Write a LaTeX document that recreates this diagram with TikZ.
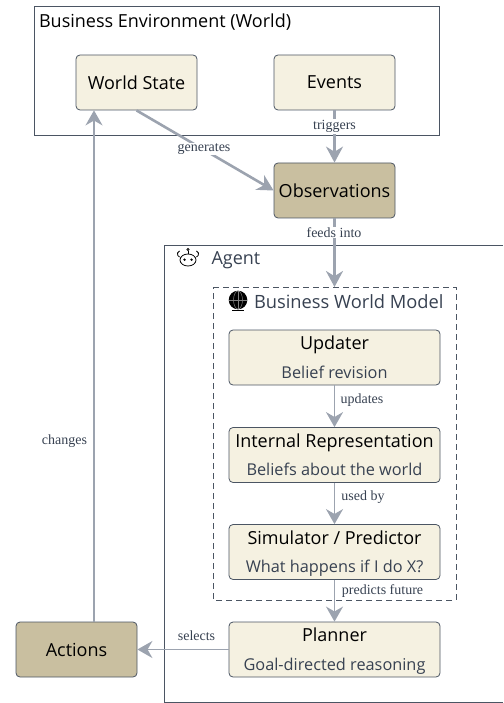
\documentclass[tikz,border=0pt]{standalone}
\usepackage{fontspec}
\setmainfont{Liberation Serif}
\setsansfont{Open Sans}
\usetikzlibrary{arrows.meta}
\definecolor{boxcream}{HTML}{F5F1E1}
\definecolor{boxtan}{HTML}{C9BFA0}
\definecolor{edgegray}{HTML}{9CA3AF}
\definecolor{linegray}{HTML}{4B5563}
\definecolor{subgray}{HTML}{374151}
\tikzset{
	cream/.style={draw=linegray,fill=boxcream,rounded corners=4pt,line width=0.8pt,minimum width=121pt,minimum height=55pt,inner sep=0pt,font=\sffamily\fontsize{18}{20}\selectfont},
	tan/.style={cream,fill=boxtan},
	part/.style={cream,minimum width=211pt,align=center},
	edgelabel/.style={fill=white,inner sep=1pt,text=subgray,font=\rmfamily\fontsize{14}{16}\selectfont},
	thickflow/.style={draw=edgegray,line width=2.6pt,-{Stealth[length=16pt,width=17pt]}},
	flow/.style={draw=edgegray,line width=1.8pt,-{Stealth[length=15pt,width=17pt]}}
}
\newcommand{\parttext}[2]{\rule[-6pt]{0pt}{24pt}#1\\[8.4pt]{\fontsize{16.3}{18}\selectfont\color{subgray}\strut #2}}
\begin{document}
\begin{tikzpicture}[x=1pt,y=-1pt]
	\useasboundingbox (0,0) rectangle (503,703);
	
	\draw[linegray,line width=0.8pt](34.5,6)--(439.5,6)--(439.5,135.5)--(34.5,135.5)--cycle;
	\node[anchor=west,font=\sffamily\fontsize{18}{20}\selectfont] (worldtitle) at (35.5,22.5){Business Environment (World)};
	
	\draw[linegray,line width=0.8pt](503,245)--(164,245)--(164,702)--(503,702);
	\node[anchor=west,text=subgray,font=\sffamily\fontsize{18}{20}\selectfont] (agenttitle) at (208,260.5){Agent};
	
	\draw[black,line width=0.8pt](188,260) ellipse [x radius=8,y radius=6];
	\draw[black,line width=0.8pt](179.5,257) arc [start angle=110,end angle=250,radius=3.2];
	\draw[black,line width=0.8pt](196.5,257) arc [start angle=70,end angle=-70,radius=3.2];
	\draw[black,line width=0.6pt](188,254)--(188,250.5);
	\draw[black,line width=0.6pt](188,249.5) circle [radius=1.1];
	\fill[black](184.5,259.7) circle [radius=1.3];
	\fill[black](191.5,259.7) circle [radius=1.3];
	
	\draw[linegray,line width=0.9pt,dashed,dash pattern=on 6pt off 4pt](213,287)--(456,287)--(456,600)--(213,600)--cycle;
	\node[anchor=west,text=subgray,font=\sffamily\fontsize{18.3}{20}\selectfont] (modeltitle) at (250.5,302){Business World Model};
	
	\fill[black](238,300) circle [radius=9.3];
	\draw[gray,line width=0.5pt](229,300)--(247,300);
	\draw[gray,line width=0.5pt](238,291)--(238,309);
	\draw[gray,line width=0.5pt](238,300) ellipse [x radius=4.5,y radius=9];
	\draw[black,line width=1.2pt](232,310.5)--(244,310.5);
	
	\node[cream] (worldstate) at (136.5,82.5){World State};
	\node[cream] (events) at (334.5,82.5){Events};
	\node[tan] (observations) at (334.5,190.5){Observations};
	\node[tan] (actions) at (76.5,649.5){Actions};
	
	\node[part] (updater) at (334.5,357.5){\parttext{Updater}{Belief revision}};
	\node[part] (internal) at (334.5,455){\parttext{Internal Representation}{Beliefs about the world}};
	\node[part] (simulator) at (334.5,552){\parttext{Simulator / Predictor}{What happens if I do X?}};
	\node[part] (planner) at (334.5,649.5){\parttext{Planner}{Goal-directed reasoning}};
	
	\draw[thickflow](worldstate.south)--(observations.west);
	\draw[thickflow](events)--(observations);
	\draw[thickflow](observations.south)--(334.5,287);
	\draw[flow](updater)--(internal);
	\draw[flow](internal)--(simulator);
	\draw[flow](simulator)--(planner);
	\draw[flow](planner)--(actions);
	\draw[flow]([xshift=17.5pt]actions.north)--([xshift=-42.5pt]worldstate.south);
	
	\node[edgelabel] (generates) at (204,149){generates};
	\node[edgelabel] (triggers) at (334.5,126.5){triggers};
	\node[edgelabel] (feeds) at (334,232.5){feeds into};
	\node[edgelabel,fill=none] (updates) at (362,400.5){updates};
	\node[edgelabel,fill=none] (usedby) at (363,497){used by};
	\node[edgelabel,fill=none] (predicts) at (382.5,591){predicts future};
	\node[edgelabel] (selects) at (196.5,636){selects};
	\node[edgelabel,fill=none] (changes) at (64.5,441){changes};
	
\end{tikzpicture}
\end{document}
